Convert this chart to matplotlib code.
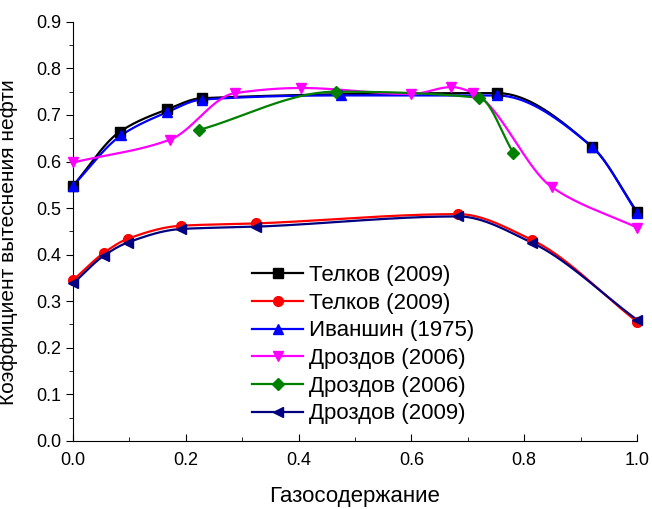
import numpy as np
import matplotlib.pyplot as plt
from matplotlib.ticker import MultipleLocator

plt.rcParams['font.family'] = ['Liberation Sans', 'DejaVu Sans']

# data
x_telkov1 = [0.0, 0.083, 0.167, 0.228, 0.752, 0.92, 1.0]
y_telkov1 = [0.548, 0.664, 0.712, 0.736, 0.747, 0.632, 0.492]

x_telkov2 = [0.0, 0.055, 0.097, 0.191, 0.324, 0.683, 0.813, 1.0]
y_telkov2 = [0.345, 0.404, 0.434, 0.462, 0.467, 0.487, 0.432, 0.256]

x_ivan = [0.0, 0.085, 0.167, 0.228, 0.476, 0.751, 0.92, 1.0]
y_ivan = [0.548, 0.656, 0.706, 0.733, 0.742, 0.742, 0.632, 0.490]

x_drozd06a = [0.0, 0.172, 0.287, 0.404, 0.60, 0.671, 0.709, 0.849, 1.0]
y_drozd06a = [0.598, 0.647, 0.747, 0.758, 0.745, 0.760, 0.748, 0.545, 0.458]

x_drozd06b = [0.224, 0.466, 0.72, 0.781]
y_drozd06b = [0.668, 0.750, 0.737, 0.618]

x_drozd09 = [0.0, 0.055, 0.097, 0.191, 0.324, 0.683, 0.813, 1.0]
y_drozd09 = [0.338, 0.398, 0.426, 0.455, 0.460, 0.482, 0.426, 0.260]

labels = ['Телков (2009)', 'Телков (2009)', 'Иваншин (1975)',
          'Дроздов (2006)', 'Дроздов (2006)', 'Дроздов (2009)']


def smooth(x, y, n=400):
    # monotone cubic (pchip) so the curve bends without big overshoot
    x = np.asarray(x, float)
    y = np.asarray(y, float)
    h = np.diff(x)
    d = np.diff(y) / h
    m = np.zeros_like(y)
    for i in range(1, len(x) - 1):
        if d[i - 1] * d[i] > 0:
            w1 = 2 * h[i] + h[i - 1]
            w2 = h[i] + 2 * h[i - 1]
            m[i] = (w1 + w2) / (w1 / d[i - 1] + w2 / d[i])
    m[0] = d[0]
    m[-1] = d[-1]
    xs = np.linspace(x[0], x[-1], n)
    idx = np.clip(np.searchsorted(x, xs) - 1, 0, len(x) - 2)
    t = (xs - x[idx]) / h[idx]
    h00 = 2 * t**3 - 3 * t**2 + 1
    h10 = t**3 - 2 * t**2 + t
    h01 = -2 * t**3 + 3 * t**2
    h11 = t**3 - t**2
    ys = h00 * y[idx] + h10 * h[idx] * m[idx] + h01 * y[idx + 1] + h11 * h[idx] * m[idx + 1]
    return xs, ys


series = [
    (x_telkov1, y_telkov1, 'black', 's'),
    (x_telkov2, y_telkov2, 'red', 'o'),
    (x_ivan, y_ivan, 'blue', '^'),
    (x_drozd06a, y_drozd06a, 'magenta', 'v'),
    (x_drozd06b, y_drozd06b, 'green', 'D'),
    (x_drozd09, y_drozd09, 'navy', '<'),
]

fig = plt.figure(figsize=(6.52, 5.09), dpi=100)
ax = fig.add_axes([0.112, 0.134, 0.865, 0.823])

for (xx, yy, col, mk), lab in zip(series, labels):
    xs, ys = smooth(xx, yy)
    size = 7 if mk != 'D' else 6
    ax.plot(xs, ys, color=col, lw=1.6, zorder=2)
    ax.plot(xx, yy, ls='none', marker=mk, color=col, ms=size, zorder=3, clip_on=False)
    ax.plot([], [], color=col, marker=mk, lw=1.6, ms=size, label=lab)

ax.set_xlim(0, 1.0)
ax.set_ylim(0, 0.9)
ax.xaxis.set_major_locator(MultipleLocator(0.2))
ax.xaxis.set_minor_locator(MultipleLocator(0.1))
ax.yaxis.set_major_locator(MultipleLocator(0.1))
ax.yaxis.set_minor_locator(MultipleLocator(0.05))
ax.xaxis.set_major_formatter(plt.FormatStrFormatter('%.1f'))
ax.yaxis.set_major_formatter(plt.FormatStrFormatter('%.1f'))
ax.spines['top'].set_visible(False)
ax.spines['right'].set_visible(False)
ax.tick_params(axis='x', which='major', direction='in', length=5, labelsize=13, pad=8)
ax.tick_params(axis='x', which='minor', direction='in', length=3)
ax.tick_params(axis='y', which='major', direction='out', length=5, labelsize=13)
ax.tick_params(axis='y', which='minor', direction='out', length=3)

ax.set_xlabel('Газосодержание', fontsize=16, labelpad=12)
ax.set_ylabel('Коэффициент вытеснения нефти', fontsize=15)
ax.yaxis.set_label_coords(-0.097, 0.475)

ax.legend(loc='upper left', bbox_to_anchor=(0.302, 0.441), frameon=False,
          fontsize=16, handlelength=2.3, labelspacing=0.3, handletextpad=0.25,
          borderaxespad=0)

fig.savefig('out.png', dpi=100)
